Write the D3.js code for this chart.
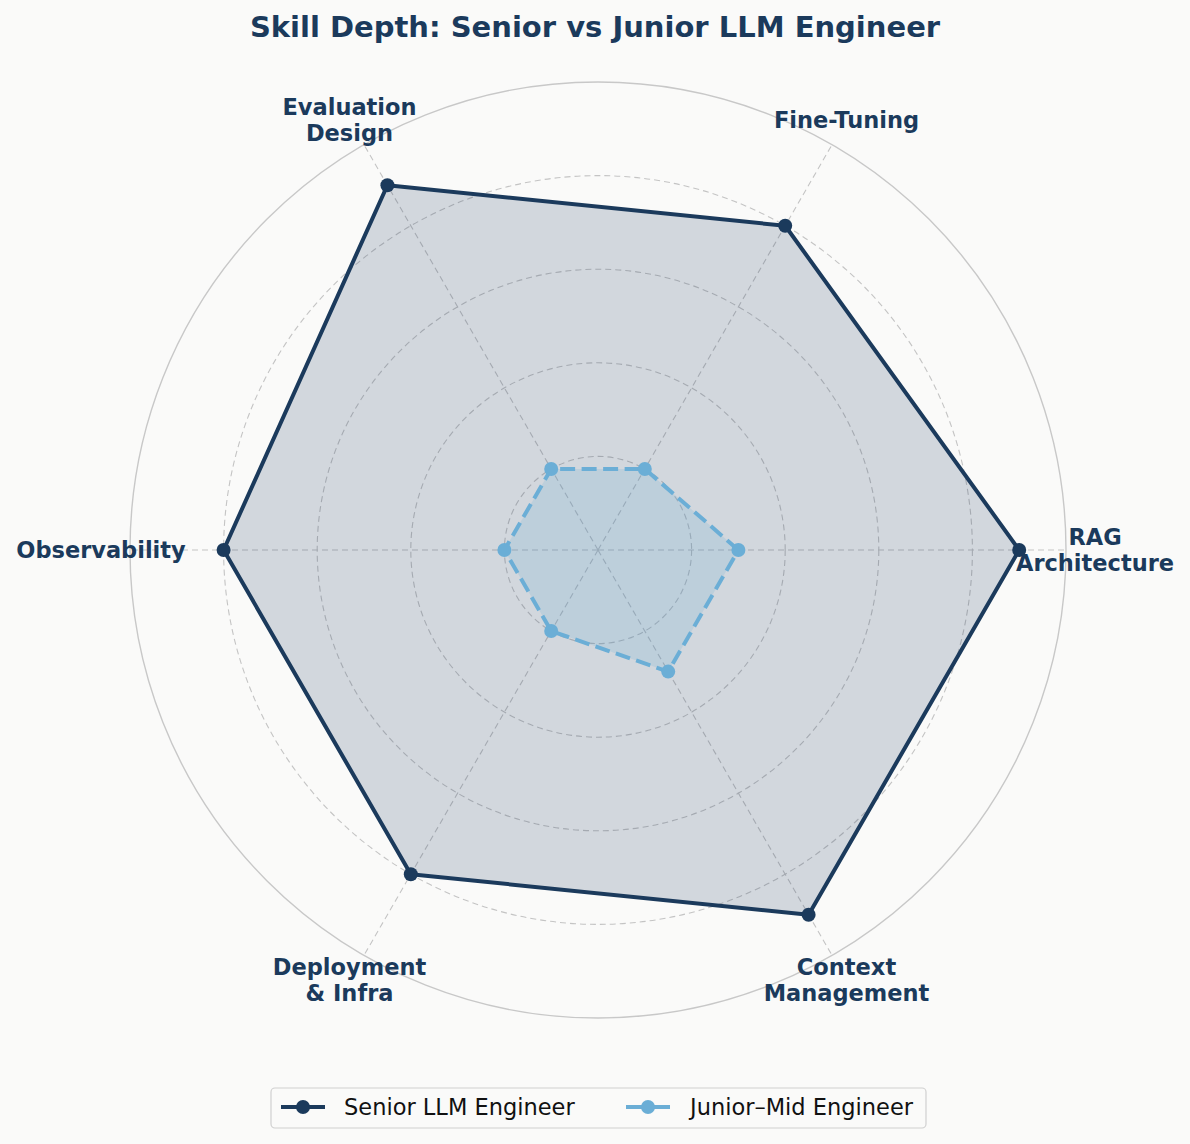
<!DOCTYPE html>
<html>
<head>
<meta charset="utf-8">
<script src="https://cdn.jsdelivr.net/npm/d3@7"></script>
<style>
  body { margin: 0; background: #fafaf9; }
  svg { display: block; font-family: "DejaVu Sans", sans-serif; }
</style>
</head>
<body>
<div id="chart"></div>
<script>
// Skill axes, counterclockwise from the right
const skills = [
    ["RAG", "Architecture"],
    ["Fine-Tuning"],
    ["Evaluation", "Design"],
    ["Observability"],
    ["Deployment", "& Infra"],
    ["Context", "Management"]
];
const seniorValues = [4.5, 4.0, 4.5, 4.0, 4.0, 4.5];
const juniorValues = [1.5, 1.0, 1.0, 1.0, 1.0, 1.5];
const gridLevels = [1, 2, 3, 4];
const maxValue = 5;
const seriesNames = ["Senior LLM Engineer", "Junior\u2013Mid Engineer"];

const W = 1190, H = 1144;
const cx = 598, cy = 550, R = 468;
const navy = "#1b3a5c", blue = "#6baed6";

const svg = d3.select("#chart").append("svg")
    .attr("width", W).attr("height", H);

svg.append("rect").attr("width", W).attr("height", H).attr("fill", "#fafaf9");

svg.append("text")
    .attr("x", W / 2).attr("y", 37)
    .attr("text-anchor", "middle")
    .attr("font-size", 29).attr("font-weight", "bold")
    .attr("fill", navy)
    .text("Skill Depth: Senior vs Junior LLM Engineer");

const r = d3.scaleLinear().domain([0, maxValue]).range([0, R]);
const angle = i => i * 2 * Math.PI / skills.length;
const px = (i, v) => cx + r(v) * Math.cos(angle(i));
const py = (i, v) => cy - r(v) * Math.sin(angle(i));

const g = svg.append("g");

// grid rings
g.selectAll(".ring").data(gridLevels).enter().append("circle")
    .attr("cx", cx).attr("cy", cy).attr("r", d => r(d))
    .attr("fill", "none").attr("stroke", "#c4c4c4")
    .attr("stroke-width", 1.1).attr("stroke-dasharray", "6,4");

// spokes
g.selectAll(".spoke").data(skills).enter().append("line")
    .attr("x1", cx).attr("y1", cy)
    .attr("x2", (d, i) => px(i, maxValue)).attr("y2", (d, i) => py(i, maxValue))
    .attr("stroke", "#c4c4c4").attr("stroke-width", 1.1).attr("stroke-dasharray", "6,4");

// outer frame
g.append("circle").attr("cx", cx).attr("cy", cy).attr("r", r(maxValue))
    .attr("fill", "none").attr("stroke", "#c8c8c8").attr("stroke-width", 1.4);

const line = d3.line().x(d => d[0]).y(d => d[1]).curve(d3.curveLinearClosed);

function drawSeries(values, color, fillOpacity, dash) {
    const pts = values.map((v, i) => [px(i, v), py(i, v)]);
    g.append("path").attr("d", line(pts))
        .attr("fill", color).attr("fill-opacity", fillOpacity).attr("stroke", "none");
    g.append("path").attr("d", line(pts))
        .attr("fill", "none").attr("stroke", color).attr("stroke-width", 4)
        .attr("stroke-dasharray", dash).attr("stroke-linejoin", "round");
    g.selectAll(null).data(pts).enter().append("circle")
        .attr("cx", d => d[0]).attr("cy", d => d[1]).attr("r", 7)
        .attr("fill", color);
}

drawSeries(seniorValues, navy, 0.18, null);
drawSeries(juniorValues, blue, 0.2, "15,6.5");

// axis labels
const labelR = R + 29;
skills.forEach((lines, i) => {
    const x = cx + labelR * Math.cos(angle(i));
    const y = cy - labelR * Math.sin(angle(i));
    const t = svg.append("text")
        .attr("text-anchor", "middle")
        .attr("font-size", 22.5).attr("font-weight", "bold")
        .attr("fill", navy);
    const lh = 26;
    lines.forEach((s, k) => {
        t.append("tspan")
            .attr("x", x)
            .attr("y", y - (lines.length - 1) * lh / 2 + k * lh + 8)
            .text(s);
    });
});

// legend
const leg = svg.append("g");
leg.append("rect").attr("x", 271).attr("y", 1088).attr("width", 655).attr("height", 40)
    .attr("rx", 4).attr("fill", "#fafaf9").attr("stroke", "#d0d0d0").attr("stroke-width", 1.2);
const legItems = [
    { name: seriesNames[0], color: navy, x: 281, tx: 344 },
    { name: seriesNames[1], color: blue, x: 626, tx: 690 }
];
legItems.forEach(d => {
    leg.append("line").attr("x1", d.x).attr("x2", d.x + 44)
        .attr("y1", 1107).attr("y2", 1107)
        .attr("stroke", d.color).attr("stroke-width", 4);
    leg.append("circle").attr("cx", d.x + 22).attr("cy", 1107).attr("r", 7).attr("fill", d.color);
    leg.append("text").attr("x", d.tx).attr("y", 1115)
        .attr("font-size", 22.5).attr("fill", "#111").text(d.name);
});
</script>
</body>
</html>
